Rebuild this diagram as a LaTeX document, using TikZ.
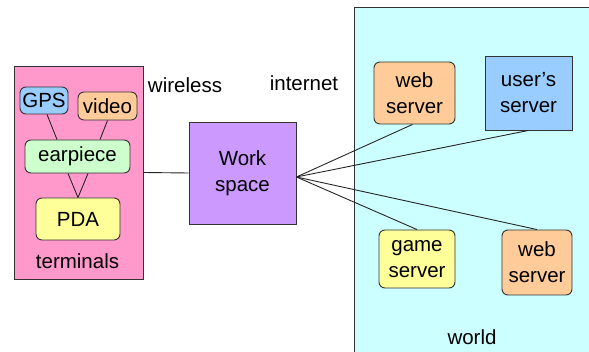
\documentclass[tikz,border=0pt]{standalone}
\usepackage{fontspec}
\setmainfont{Liberation Sans}
\definecolor{pinkc}{HTML}{FF99CC}
\definecolor{cyanc}{HTML}{CCFFFF}
\definecolor{bluec}{HTML}{99CCFF}
\definecolor{orangec}{HTML}{FFCC99}
\definecolor{greenc}{HTML}{CCFFCC}
\definecolor{yellowc}{HTML}{FFFF99}
\definecolor{purplec}{HTML}{CC99FF}
\definecolor{edgec}{HTML}{333333}
\begin{document}
\begin{tikzpicture}[x=1pt,y=-1pt,
  every node/.style={font=\fontsize{20.5}{26}\selectfont, inner sep=0pt, align=center},
  box/.style={draw=edgec, line width=0.9pt, rectangle},
  rbox/.style={box, rounded corners=6pt},
  conn/.style={draw=black!85, line width=0.9pt},
  lbl/.style={}
]
\useasboundingbox (0,0) rectangle (589,352);
\clip (0,0) rectangle (589,352);
% containers
\node[box, fill=pinkc, minimum width=129pt, minimum height=213pt] (term) at (78.5,172.5) {};
\node[box, fill=cyanc, minimum width=250pt, minimum height=360pt] (world) at (479,187) {};
% terminal items
\node[rbox, fill=bluec, minimum width=48pt, minimum height=27pt] (gps) at (44,100.5) {GPS};
\node[rbox, fill=orangec, minimum width=59pt, minimum height=28pt] (video) at (107.5,106) {video};
\node[rbox, fill=greenc, minimum width=105pt, minimum height=33pt] (ear) at (77.5,156.5) {earpiece};
\node[rbox, fill=yellowc, minimum width=84pt, minimum height=42pt] (pda) at (78,219) {PDA};
\node[lbl] (terml) at (77.5,261) {terminals};
% workspace
\node[box, fill=purplec, minimum width=107pt, minimum height=102pt] (ws) at (242.5,173) {Work\\space};
\node[lbl] (wl) at (185,85) {wireless};
\node[lbl] (il) at (304,83) {internet};
% servers
\node[rbox, fill=orangec, minimum width=81pt, minimum height=62pt] (web1) at (414.5,93) {web\\server};
\node[box, fill=bluec, minimum width=87pt, minimum height=74pt] (users) at (528.5,93) {user’s\\server};
\node[rbox, fill=yellowc, minimum width=76pt, minimum height=58pt] (game) at (417,259) {game\\server};
\node[rbox, fill=orangec, minimum width=70pt, minimum height=65pt] (web2) at (537,262.5) {web\\server};
\node[lbl] (wo) at (472,337) {world};
% connectors
\draw[conn] ([xshift=3pt]gps.south) -- ([xshift=-20.5pt]ear.north);
\draw[conn] (video.south) -- ([xshift=22.5pt]ear.north);
\draw[conn] ([xshift=-9.5pt]ear.south) -- (pda.north);
\draw[conn] ([xshift=10.5pt]ear.south) -- (pda.north);
\draw[conn] (term.east) -- (ws.west);
\coordinate (hub) at ([yshift=-4pt]ws.east);
\draw[conn] (hub) -- ([xshift=-2pt]web1.south);
\draw[conn] (hub) -- (users.south);
\draw[conn] (hub) -- (game.north);
\draw[conn] (hub) -- (web2.north);
\end{tikzpicture}
\end{document}
